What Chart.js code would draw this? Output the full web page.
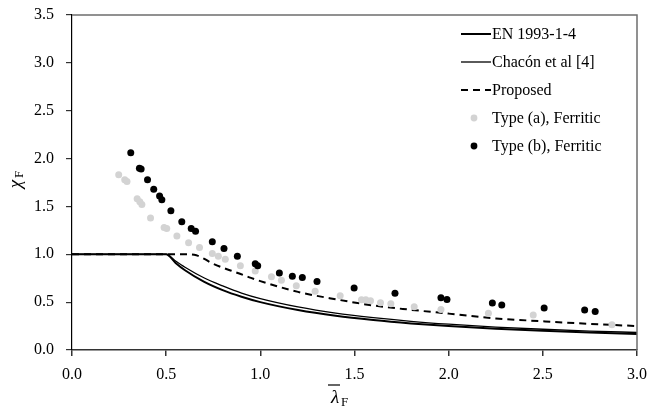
<!DOCTYPE html>
<html>
<head>
<meta charset="utf-8">
<script src="https://cdn.jsdelivr.net/npm/chart.js@4.4.1/dist/chart.umd.min.js"></script>
<style>
  body { margin: 0; background: #fff; }
</style>
</head>
<body>
<canvas id="chi-lambda" width="649" height="412"></canvas>
<script>
// Courbes de résistance (lambda -> chi)
const lambdaEN = [0, 0.5, 0.55, 0.6, 0.7, 0.8, 0.9, 1.0, 1.2, 1.4, 1.6, 1.8, 2.0, 2.25, 2.5, 2.75, 3.0];
const chiEN = [1, 1, 0.91, 0.833, 0.714, 0.625, 0.556, 0.5, 0.417, 0.357, 0.313, 0.278, 0.25, 0.222, 0.2, 0.182, 0.167];

const lambdaChacon = [0, 0.5, 0.55, 0.6, 0.7, 0.8, 0.9, 1.0, 1.2, 1.4, 1.6, 1.8, 2.0, 2.25, 2.5, 2.75, 3.0];
const chiChacon = [1, 1, 0.93, 0.865, 0.755, 0.67, 0.595, 0.537, 0.45, 0.385, 0.338, 0.3, 0.27, 0.24, 0.217, 0.198, 0.183];

const lambdaProp = [0, 0.62, 0.66, 0.7, 0.74, 0.8, 0.88, 0.95, 1.0, 1.2, 1.4, 1.6, 1.8, 2.0, 2.25, 2.5, 2.75, 3.0];
const chiProp = [1, 1, 0.99, 0.955, 0.91, 0.86, 0.805, 0.753, 0.72, 0.607, 0.53, 0.465, 0.42, 0.38, 0.33, 0.3, 0.273, 0.25];

// Essais
const lambdaA = [0.248, 0.28, 0.292, 0.346, 0.36, 0.371, 0.417, 0.489, 0.503, 0.557, 0.619, 0.677, 0.745, 0.777, 0.814, 0.894, 0.973, 1.059, 1.112, 1.191, 1.291, 1.424, 1.537, 1.56, 1.585, 1.638, 1.693, 1.817, 1.959, 2.211, 2.449, 2.867];
const chiA = [1.83, 1.78, 1.76, 1.58, 1.55, 1.52, 1.38, 1.28, 1.27, 1.19, 1.12, 1.07, 1.007, 0.98, 0.948, 0.88, 0.826, 0.764, 0.729, 0.67, 0.615, 0.566, 0.524, 0.524, 0.514, 0.493, 0.483, 0.451, 0.424, 0.385, 0.365, 0.264];

const lambdaB = [0.312, 0.358, 0.367, 0.401, 0.434, 0.465, 0.477, 0.525, 0.583, 0.633, 0.656, 0.745, 0.807, 0.878, 0.973, 0.986, 1.101, 1.17, 1.223, 1.301, 1.498, 1.715, 1.959, 1.991, 2.232, 2.282, 2.507, 2.722, 2.778];
const chiB = [2.06, 1.9, 1.89, 1.78, 1.68, 1.61, 1.57, 1.455, 1.34, 1.27, 1.24, 1.13, 1.06, 0.98, 0.9, 0.88, 0.805, 0.77, 0.757, 0.715, 0.649, 0.594, 0.545, 0.528, 0.49, 0.469, 0.44, 0.417, 0.403];

const xTicks = [0, 0.5, 1.0, 1.5, 2.0, 2.5, 3.0];
const yTicks = [0, 0.5, 1.0, 1.5, 2.0, 2.5, 3.0, 3.5];

const serif = "'Liberation Serif', 'Times New Roman', serif";
const pts = (xs, ys) => xs.map((x, i) => ({ x: x, y: ys[i] }));

// cadre, titres d'axes et légende dessinés à la main
const decor = {
  id: 'decor',
  afterDraw(chart) {
    const c = chart.ctx;
    const a = chart.chartArea;
    c.save();
    // cadre haut / droite
    c.strokeStyle = '#6e6e6e';
    c.lineWidth = 1.5;
    c.beginPath();
    c.moveTo(a.left, a.top);
    c.lineTo(a.right, a.top);
    c.lineTo(a.right, a.bottom);
    c.stroke();

    c.fillStyle = '#000';
    c.textBaseline = 'middle';
    // titre axe y : chi_F
    c.save();
    c.translate(16, 184);
    c.rotate(-Math.PI / 2);
    c.textAlign = 'center';
    c.font = 'italic 19px ' + serif;
    c.fillText('χ', 0, 0);
    c.textAlign = 'left';
    c.font = '13px ' + serif;
    c.fillText('F', 6, 4);
    c.restore();

    // titre axe x : lambda barre _F
    c.textAlign = 'center';
    c.font = 'italic 19px ' + serif;
    c.fillText('λ', 335, 398);
    c.textAlign = 'left';
    c.font = '13px ' + serif;
    c.fillText('F', 341, 403);
    c.lineWidth = 1.2;
    c.strokeStyle = '#000';
    c.beginPath();
    c.moveTo(328, 385);
    c.lineTo(340, 385);
    c.stroke();

    // légende
    c.textAlign = 'left';
    c.font = '16px ' + serif;
    chart.data.datasets.forEach((ds, i) => {
      const y = 34 + i * 28;
      if (ds.type === 'line') {
        c.strokeStyle = ds.borderColor;
        c.lineWidth = ds.borderWidth;
        c.setLineDash(ds.borderDash || []);
        c.beginPath();
        c.moveTo(461, y);
        c.lineTo(491, y);
        c.stroke();
        c.setLineDash([]);
      } else {
        c.fillStyle = ds.backgroundColor;
        c.beginPath();
        c.arc(474, y, 3.4, 0, Math.PI * 2);
        c.fill();
      }
      c.fillStyle = '#000';
      c.fillText(ds.label, 492, y + 1);
    });
    c.restore();
  }
};

const ctx = document.getElementById('chi-lambda');

new Chart(ctx, {
  type: 'scatter',
  data: {
    datasets: [{
      type: 'line',
      label: 'EN 1993-1-4',
      data: pts(lambdaEN, chiEN),
      borderColor: '#000',
      borderWidth: 2,
      pointRadius: 0,
      cubicInterpolationMode: 'monotone',
      order: 2
    }, {
      type: 'line',
      label: 'Chacón et al [4]',
      data: pts(lambdaChacon, chiChacon),
      borderColor: '#000',
      borderWidth: 1.3,
      pointRadius: 0,
      cubicInterpolationMode: 'monotone',
      order: 2
    }, {
      type: 'line',
      label: 'Proposed',
      data: pts(lambdaProp, chiProp),
      borderColor: '#000',
      borderWidth: 2,
      borderDash: [7, 5],
      pointRadius: 0,
      cubicInterpolationMode: 'monotone',
      order: 2
    }, {
      type: 'scatter',
      label: 'Type (a), Ferritic',
      data: pts(lambdaA, chiA),
      backgroundColor: '#d3d3d3',
      borderWidth: 0,
      pointRadius: 3.5,
      order: 1
    }, {
      type: 'scatter',
      label: 'Type (b), Ferritic',
      data: pts(lambdaB, chiB),
      backgroundColor: '#000',
      borderWidth: 0,
      pointRadius: 3.5,
      order: 0
    }]
  },
  options: {
    responsive: false,
    animation: false,
    layout: { padding: { top: 15, right: 12, left: 0, bottom: 0 } },
    plugins: {
      legend: { display: false },
      tooltip: { enabled: false }
    },
    scales: {
      x: {
        type: 'linear',
        min: 0,
        max: 3,
        afterFit: s => { s.height = 62; s.paddingLeft = 0; s.paddingRight = 0; },
        afterBuildTicks: s => { s.ticks = xTicks.map(v => ({ value: v })); },
        border: { color: '#333', width: 1.5 },
        grid: { drawOnChartArea: false, drawTicks: true, tickLength: 6, color: '#333', lineWidth: 1.5 },
        ticks: {
          color: '#000',
          padding: 9,
          font: { family: serif, size: 16 },
          callback: v => v.toFixed(1)
        }
      },
      y: {
        type: 'linear',
        min: 0,
        max: 3.5,
        afterFit: s => { s.width = 72; s.paddingTop = 0; s.paddingBottom = 0; },
        afterBuildTicks: s => { s.ticks = yTicks.map(v => ({ value: v })); },
        border: { color: '#000', width: 1.2 },
        grid: { drawOnChartArea: false, drawTicks: true, tickLength: 6, color: '#333', lineWidth: 1.2 },
        ticks: {
          color: '#000',
          padding: 12,
          font: { family: serif, size: 16 },
          callback: v => v.toFixed(1)
        }
      }
    }
  },
  plugins: [decor]
});
</script>
</body>
</html>
